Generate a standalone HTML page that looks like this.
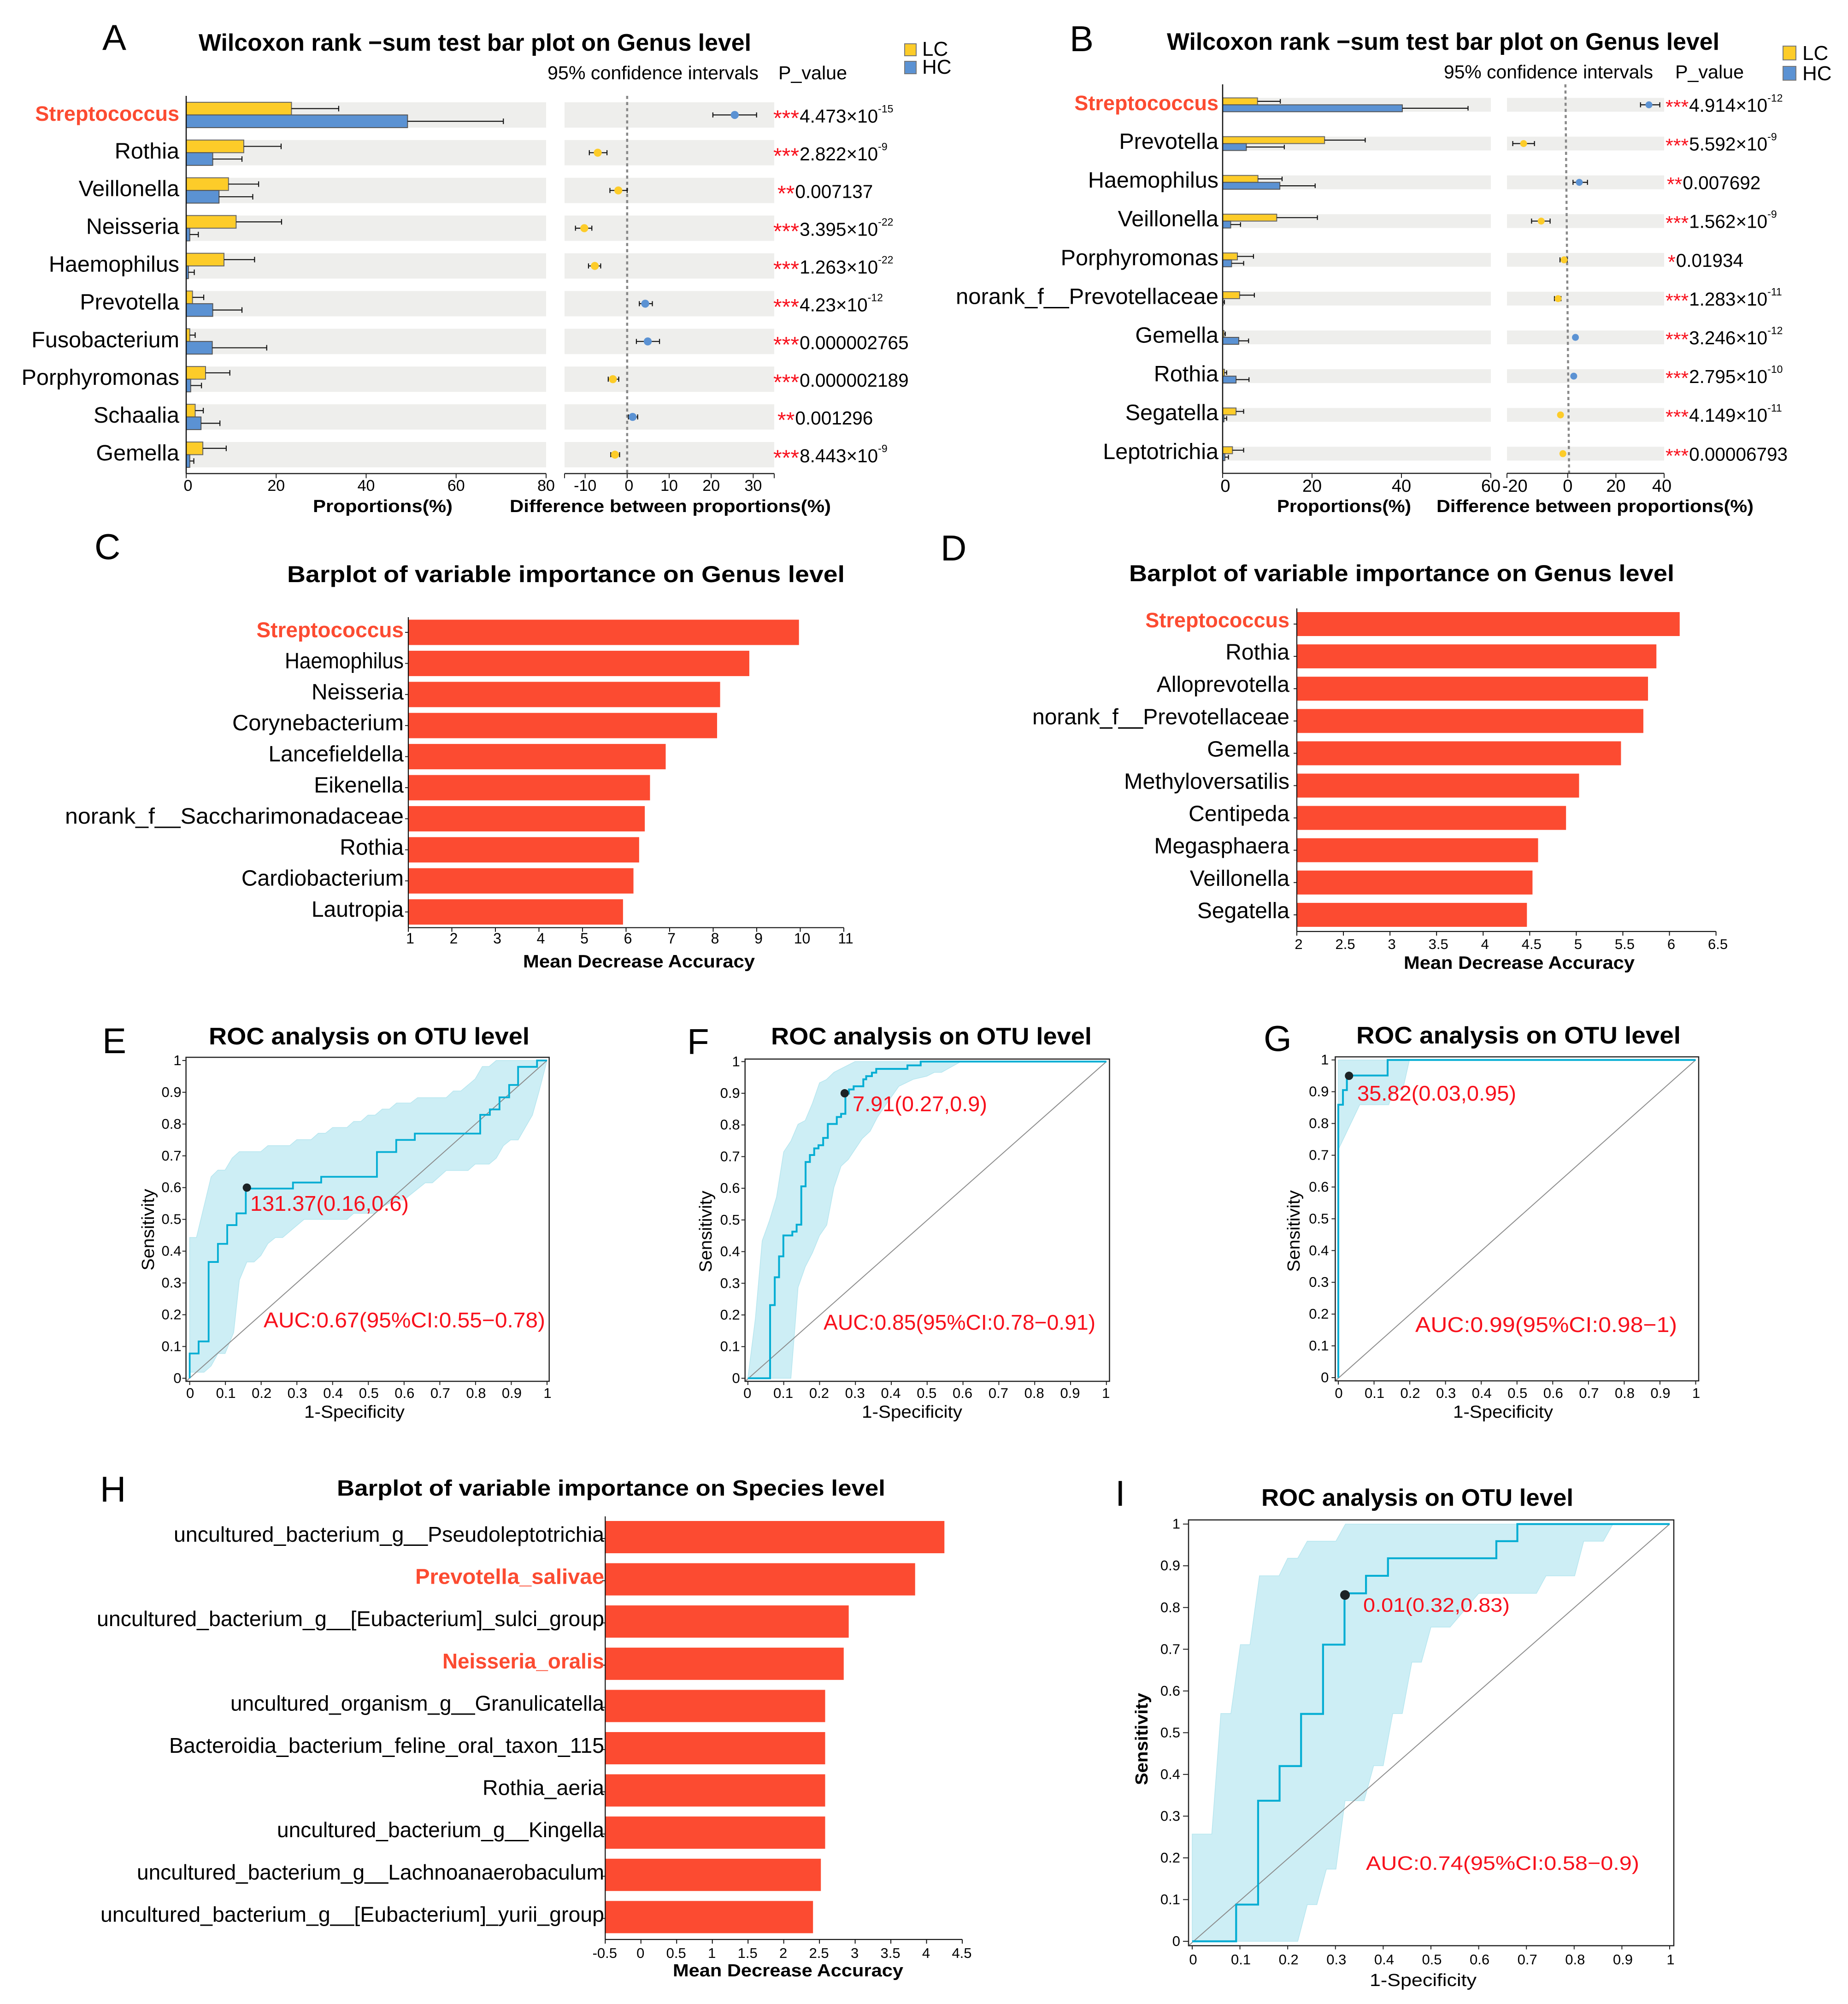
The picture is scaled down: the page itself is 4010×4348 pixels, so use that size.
<!DOCTYPE html>
<html lang="en">
<head>
<meta charset="utf-8">
<title>Microbiome figure panels A–I</title>
<style>
html,body{margin:0;padding:0;background:#fff;}
svg{display:block;}
text{font-family:"Liberation Sans",Arial,sans-serif;fill:#000;}
.b{font-weight:700;}
.r{fill:#f8101c;}
</style>
</head>
<body>
<svg id="figure" xmlns="http://www.w3.org/2000/svg" width="4010" height="4348" viewBox="0 0 4010 4348">
<rect x="0" y="0" width="4010" height="4348" fill="#ffffff"/>
<g id="charts"></g>

<g font-size="78">
<text x="222" y="108">A</text>
<text x="2321" y="111">B</text>
<text x="205" y="1213">C</text>
<text x="2041" y="1216">D</text>
<text x="222" y="2285">E</text>
<text x="1491" y="2287">F</text>
<text x="2742" y="2280">G</text>
<text x="217" y="3258">H</text>
<text x="2420" y="3267">I</text>
</g>

<g>
<text class="b" x="431" y="110" font-size="52" textLength="1199" lengthAdjust="spacingAndGlyphs">Wilcoxon rank −sum test bar plot on Genus level</text>
<text x="1188" y="172" font-size="41" textLength="458" lengthAdjust="spacingAndGlyphs">95% confidence intervals</text>
<text x="1689" y="172" font-size="41" textLength="149" lengthAdjust="spacingAndGlyphs">P_value</text>
<rect x="1963" y="95" width="25" height="26" fill="#fdcc29" stroke="#777" stroke-width="2"/>
<rect x="1963" y="133" width="25" height="27" fill="#5b92d3" stroke="#777" stroke-width="2"/>
<text x="2001" y="121" font-size="44">LC</text>
<text x="2001" y="160" font-size="44">HC</text>
<text class="b" x="679" y="1111" font-size="38" textLength="303" lengthAdjust="spacingAndGlyphs">Proportions(%)</text>
<text class="b" x="1106" y="1111" font-size="38" textLength="697" lengthAdjust="spacingAndGlyphs">Difference between proportions(%)</text>
</g>

<g>
<text class="b" x="2532" y="108" font-size="52" textLength="1199" lengthAdjust="spacingAndGlyphs">Wilcoxon rank −sum test bar plot on Genus level</text>
<text x="3133" y="170" font-size="41" textLength="454" lengthAdjust="spacingAndGlyphs">95% confidence intervals</text>
<text x="3635" y="170" font-size="41" textLength="149" lengthAdjust="spacingAndGlyphs">P_value</text>
<rect x="3869" y="100" width="28" height="30" fill="#fdcc29" stroke="#777" stroke-width="2"/>
<rect x="3869" y="144" width="28" height="30" fill="#5b92d3" stroke="#777" stroke-width="2"/>
<text x="3911" y="130" font-size="44">LC</text>
<text x="3911" y="174" font-size="44">HC</text>
<text class="b" x="2771" y="1111" font-size="38" textLength="291" lengthAdjust="spacingAndGlyphs">Proportions(%)</text>
<text class="b" x="3117" y="1111" font-size="38" textLength="688" lengthAdjust="spacingAndGlyphs">Difference between proportions(%)</text>
</g>

<g>
<text class="b" x="623" y="1263" font-size="50" textLength="1210" lengthAdjust="spacingAndGlyphs">Barplot of variable importance on Genus level</text>
<text class="b" x="1135" y="2099" font-size="39" textLength="503" lengthAdjust="spacingAndGlyphs">Mean Decrease Accuracy</text>
<text class="b" x="2450" y="1261" font-size="50" textLength="1183" lengthAdjust="spacingAndGlyphs">Barplot of variable importance on Genus level</text>
<text class="b" x="3046" y="2102" font-size="39" textLength="501" lengthAdjust="spacingAndGlyphs">Mean Decrease Accuracy</text>
<text class="b" x="731" y="3245" font-size="48" textLength="1190" lengthAdjust="spacingAndGlyphs">Barplot of variable importance on Species level</text>
<text class="b" x="1460" y="4288" font-size="38" textLength="500" lengthAdjust="spacingAndGlyphs">Mean Decrease Accuracy</text>
</g>

<g>
<text class="b" x="453" y="2266" font-size="52" textLength="696" lengthAdjust="spacingAndGlyphs">ROC analysis on OTU level</text>
<text class="r" x="543" y="2627" font-size="46" textLength="344" lengthAdjust="spacingAndGlyphs">131.37(0.16,0.6)</text>
<text class="r" x="572" y="2880" font-size="46" textLength="611" lengthAdjust="spacingAndGlyphs">AUC:0.67(95%CI:0.55−0.78)</text>
<text x="660" y="3076" font-size="38" textLength="218" lengthAdjust="spacingAndGlyphs">1-Specificity</text>
<text x="0" y="0" font-size="38" text-anchor="middle" transform="translate(334 2668) rotate(-90)" textLength="177" lengthAdjust="spacingAndGlyphs">Sensitivity</text>
</g>
<g>
<text class="b" x="1673" y="2266" font-size="52" textLength="696" lengthAdjust="spacingAndGlyphs">ROC analysis on OTU level</text>
<text class="r" x="1850" y="2411" font-size="46" textLength="292" lengthAdjust="spacingAndGlyphs">7.91(0.27,0.9)</text>
<text class="r" x="1787" y="2885" font-size="46" textLength="590" lengthAdjust="spacingAndGlyphs">AUC:0.85(95%CI:0.78−0.91)</text>
<text x="1870" y="3076" font-size="38" textLength="218" lengthAdjust="spacingAndGlyphs">1-Specificity</text>
<text x="0" y="0" font-size="38" text-anchor="middle" transform="translate(1544 2672) rotate(-90)" textLength="177" lengthAdjust="spacingAndGlyphs">Sensitivity</text>
</g>
<g>
<text class="b" x="2943" y="2264" font-size="52" textLength="704" lengthAdjust="spacingAndGlyphs">ROC analysis on OTU level</text>
<text class="r" x="2945" y="2388" font-size="46" textLength="345" lengthAdjust="spacingAndGlyphs">35.82(0.03,0.95)</text>
<text class="r" x="3071" y="2890" font-size="46" textLength="568" lengthAdjust="spacingAndGlyphs">AUC:0.99(95%CI:0.98−1)</text>
<text x="3153" y="3076" font-size="38" textLength="217" lengthAdjust="spacingAndGlyphs">1-Specificity</text>
<text x="0" y="0" font-size="38" text-anchor="middle" transform="translate(2820 2671) rotate(-90)" textLength="177" lengthAdjust="spacingAndGlyphs">Sensitivity</text>
</g>
<g>
<text class="b" x="2737" y="3267" font-size="52" textLength="677" lengthAdjust="spacingAndGlyphs">ROC analysis on OTU level</text>
<text class="r" x="2958" y="3497" font-size="43" textLength="318" lengthAdjust="spacingAndGlyphs">0.01(0.32,0.83)</text>
<text class="r" x="2964" y="4057" font-size="43" textLength="593" lengthAdjust="spacingAndGlyphs">AUC:0.74(95%CI:0.58−0.9)</text>
<text x="2972" y="4309" font-size="38" textLength="232" lengthAdjust="spacingAndGlyphs">1-Specificity</text>
<text class="b" x="0" y="0" font-size="38" text-anchor="middle" transform="translate(2490 3773) rotate(-90)" textLength="200" lengthAdjust="spacingAndGlyphs">Sensitivity</text>
</g>
</svg>

<script>
/* ---------- Panel A data ---------- */
const aCategories = ['Streptococcus','Rothia','Veillonella','Neisseria','Haemophilus','Prevotella','Fusobacterium','Porphyromonas','Schaalia','Gemella'];
const aLcMean = [23.4,12.8,9.4,11.1,8.4,1.4,0.8,4.3,2.0,3.7];
const aLcUpper = [33.9,21.1,16.1,21.2,15.2,3.9,2.0,9.7,3.8,8.9];
const aHcMean = [49.2,5.9,7.3,0.8,0.5,5.9,5.8,1.0,3.3,0.8];
const aHcUpper = [70.5,12.4,14.8,2.7,1.8,12.4,17.9,3.4,7.5,1.7];
const aDiff = [25.6,-7.0,-2.1,-10.2,-7.7,4.3,4.9,-3.4,1.3,-2.9];
const aDiffLow = [20.4,-9.0,-4.1,-12.3,-9.2,2.9,2.2,-4.5,0.3,-3.9];
const aDiffHigh = [30.8,-4.8,0,-8.4,-6.3,6.0,7.7,-2.0,2.5,-1.8];
const aStars = ['***','***','**','***','***','***','***','***','**','***'];
const aPValues = ['4.473×10','2.822×10','0.007137','3.395×10','1.263×10','4.23×10','0.000002765','0.000002189','0.001296','8.443×10'];
const aPExponents = ['-15','-9','','-22','-22','-12','','','','-9'];
const aPropTicks = [0,20,40,60,80];
const aDiffTicks = [-10,0,10,20,30];

/* ---------- Panel B data ---------- */
const bCategories = ['Streptococcus','Prevotella','Haemophilus','Veillonella','Porphyromonas','norank_f__Prevotellaceae','Gemella','Rothia','Segatella','Leptotrichia'];
const bLcMean = [7.8,22.8,7.9,12.1,3.3,3.8,0.3,0.4,3.0,2.2];
const bLcUpper = [12.9,31.9,13.3,21.2,6.9,7.1,0.6,0.9,4.7,4.7];
const bHcMean = [40.2,5.3,12.8,1.8,2.0,0.1,3.6,3.0,0.3,0.5];
const bHcUpper = [54.9,13.8,20.7,4.0,4.7,0.4,5.8,5.9,0.9,1.3];
const bDiff = [33.7,-18.3,4.8,-11,-1.5,-4,3.2,2.5,-3,-2];
const bDiffLow = [30.2,-22.8,2.2,-15,-3.2,-5.5,2.5,2,-3.5,-2.8];
const bDiffHigh = [38.2,-13.8,8.2,-7.3,-0.2,-2.8,4,3.2,-2.2,-1.2];
const bStars = ['***','***','**','***','*','***','***','***','***','***'];
const bPValues = ['4.914×10','5.592×10','0.007692','1.562×10','0.01934','1.283×10','3.246×10','2.795×10','4.149×10','0.00006793'];
const bPExponents = ['-12','-9','','-9','','-11','-12','-10','-11',''];
const bPropTicks = [0,20,40,60];
const bDiffTicks = [-20,0,20,40];

/* ---------- Importance bar panels ---------- */
const cCategories = ['Streptococcus','Haemophilus','Neisseria','Corynebacterium','Lancefieldella','Eikenella','norank_f__Saccharimonadaceae','Rothia','Cardiobacterium','Lautropia'];
const cValues = [9.97,8.83,8.16,8.09,6.91,6.55,6.43,6.30,6.17,5.93];
const cTicks = [1,2,3,4,5,6,7,8,9,10,11];
const dCategories = ['Streptococcus','Rothia','Alloprevotella','norank_f__Prevotellaceae','Gemella','Methyloversatilis','Centipeda','Megasphaera','Veillonella','Segatella'];
const dValues = [6.11,5.86,5.77,5.72,5.48,5.03,4.89,4.59,4.53,4.47];
const dTicks = [2,2.5,3,3.5,4,4.5,5,5.5,6,6.5];
const hCategories = ['uncultured_bacterium_g__Pseudoleptotrichia','Prevotella_salivae','uncultured_bacterium_g__[Eubacterium]_sulci_group','Neisseria_oralis','uncultured_organism_g__Granulicatella','Bacteroidia_bacterium_feline_oral_taxon_115','Rothia_aeria','uncultured_bacterium_g__Kingella','uncultured_bacterium_g__Lachnoanaerobaculum','uncultured_bacterium_g__[Eubacterium]_yurii_group'];
const hValues = [4.25,3.84,2.91,2.84,2.58,2.58,2.58,2.58,2.52,2.41];
const hTicks = [-0.5,0,0.5,1,1.5,2,2.5,3,3.5,4,4.5];

/* ---------- ROC panels ---------- */
const rocTicks = [0,0.1,0.2,0.3,0.4,0.5,0.6,0.7,0.8,0.9,1];

const eStepFpr = [0,0.025,0.053,0.079,0.105,0.131,0.157,0.289,0.368,0.524,0.578,0.63,0.813,0.84,0.867,0.894,0.919,0.972,1];
const eStepTpr = [0.078,0.116,0.366,0.423,0.482,0.519,0.597,0.616,0.634,0.712,0.75,0.77,0.829,0.846,0.884,0.923,0.98,1,1];
const eUpperFpr = [0,0.019,0.06,0.079,0.099,0.119,0.139,0.199,0.219,0.28,0.3,0.34,0.36,0.38,0.4,0.44,0.459,0.479,0.499,0.519,0.539,0.559,0.579,0.618,0.638,0.718,0.738,0.759,0.799,0.819,0.838,0.858,1];
const eUpperTpr = [0.443,0.443,0.634,0.655,0.655,0.693,0.713,0.713,0.732,0.732,0.751,0.751,0.771,0.771,0.789,0.789,0.808,0.808,0.828,0.828,0.847,0.847,0.866,0.866,0.883,0.883,0.904,0.904,0.942,0.981,0.981,1,1];
const eLowerFpr = [0.978,0.959,0.919,0.898,0.878,0.858,0.838,0.799,0.779,0.718,0.679,0.659,0.599,0.579,0.539,0.519,0.459,0.44,0.32,0.26,0.24,0.219,0.199,0.18,0.16,0.139,0.123,0.099,0.079,0.06,0.04,0];
const eLowerTpr = [0.904,0.828,0.75,0.75,0.732,0.693,0.674,0.674,0.654,0.654,0.615,0.615,0.561,0.561,0.541,0.519,0.519,0.5,0.5,0.443,0.443,0.424,0.386,0.366,0.366,0.309,0.144,0.078,0.078,0.039,0.019,0.019];
const eCutoffFpr = [0.16];
const eCutoffTpr = [0.6];

const fStepFpr = [0,0.062,0.075,0.087,0.099,0.124,0.136,0.149,0.161,0.173,0.185,0.197,0.21,0.223,0.248,0.26,0.272,0.282,0.295,0.322,0.33,0.346,0.358,0.37,0.445,0.482,1];
const fStepTpr = [0,0.231,0.319,0.385,0.451,0.463,0.485,0.606,0.683,0.705,0.726,0.736,0.759,0.803,0.825,0.835,0.899,0.912,0.922,0.944,0.954,0.965,0.977,0.977,0.988,1,1];
const fUpperFpr = [0,0.021,0.04,0.06,0.08,0.1,0.12,0.14,0.16,0.18,0.2,0.219,0.24,0.299,1];
const fUpperTpr = [0,0.189,0.434,0.497,0.572,0.715,0.749,0.802,0.814,0.868,0.933,0.943,0.966,1,1];
const fLowerFpr = [0.594,0.54,0.52,0.499,0.461,0.421,0.38,0.361,0.341,0.319,0.28,0.26,0.24,0.22,0.2,0.18,0.16,0.14,0.12,0];
const fLowerTpr = [1,0.966,0.966,0.954,0.944,0.922,0.856,0.824,0.78,0.757,0.691,0.67,0.603,0.484,0.451,0.396,0.352,0.287,0,0];
const fCutoffFpr = [0.27];
const fCutoffTpr = [0.9];

const gStepFpr = [0,0.013,0.024,0.138,1];
const gStepTpr = [0.859,0.905,0.951,1,1];
const gUpperFpr = [0,0.199];
const gUpperTpr = [1,1];
const gLowerFpr = [0.18,0.155,0.141,0.06,0];
const gLowerTpr = [0.905,0.905,0.859,0.859,0.718];
const gCutoffFpr = [0.03];
const gCutoffTpr = [0.95];

const iStepFpr = [0.092,0.138,0.183,0.228,0.274,0.319,0.364,0.41,0.637,0.681,1];
const iStepTpr = [0.088,0.337,0.42,0.545,0.711,0.834,0.876,0.918,0.959,1,1];
const iUpperFpr = [0,0.041,0.06,0.081,0.101,0.121,0.141,0.182,0.2,0.221,0.241,0.301,0.321,0.881];
const iUpperTpr = [0.257,0.257,0.546,0.546,0.711,0.711,0.876,0.876,0.918,0.918,0.959,0.959,1,1];
const iLowerFpr = [0.861,0.82,0.801,0.741,0.721,0.6,0.54,0.5,0.48,0.46,0.44,0.42,0.4,0.38,0.36,0.32,0.301,0.281,0.261,0.241,0.221,0];
const iLowerTpr = [0.959,0.959,0.876,0.876,0.834,0.834,0.753,0.753,0.669,0.669,0.546,0.546,0.421,0.421,0.337,0.337,0.173,0.173,0.088,0.088,0,0];
const iCutoffFpr = [0.32];
const iCutoffTpr = [0.83];

/* ---------- helpers ---------- */
const NS = 'http://www.w3.org/2000/svg';
const root = document.getElementById('charts');
const YELLOW = '#fdcc29', BLUE = '#5b92d3', BAND = '#eeeeec', BAR = '#fc4b31', HILITE = '#fc4b31';

function make(parent, tag, attrs, name, text) {
  const el = document.createElementNS(NS, tag);
  for (const k in attrs) el.setAttribute(k, attrs[k]);
  
  
  if (text !== undefined) el.textContent = text;
  parent.appendChild(el);
  return el;
}
function linear(d0, d1, r0, r1) {
  return function (v) { return r0 + (v - d0) * (r1 - r0) / (d1 - d0); };
}
function slug(s) {
  return String(s).toLowerCase().replace(/[^a-z0-9]+/g, '-').replace(/^-|-$/g, '');
}
function line(parent, x1, y1, x2, y2, stroke, width, name, extra) {
  const attrs = {x1: x1, y1: y1, x2: x2, y2: y2, stroke: stroke, 'stroke-width': width};
  if (extra) for (const k in extra) attrs[k] = extra[k];
  return make(parent, 'line', attrs, name);
}
function label(parent, x, y, str, size, name, opts) {
  const o = opts || {};
  const attrs = {x: x, y: y, 'font-size': size, 'text-anchor': o.anchor || 'start'};
  if (o.bold) attrs['font-weight'] = '700';
  if (o.fill) attrs.style = 'fill:' + o.fill;
  if (o.fit) { attrs.textLength = o.fit; attrs.lengthAdjust = 'spacingAndGlyphs'; }
  return make(parent, 'text', attrs, name, str);
}

/* ---------- Wilcoxon panels ---------- */
function drawWilcoxon(c) {
  const g = make(root, 'g', {}, c.id + '-chart');
  const px = linear(c.propDomain[0], c.propDomain[1], c.propRange[0], c.propRange[1]);
  const dx = linear(c.diffDomain[0], c.diffDomain[1], c.diffRange[0], c.diffRange[1]);
  const rowY = function (i) { return c.firstRow + i * c.rowStep; };
  const half = c.bandH / 2;

  c.categories.forEach(function (cat, i) {
    const y = rowY(i), s = slug(cat);
    make(g, 'rect', {x: c.propRange[0], y: y - half, width: c.propRange[1] - c.propRange[0], height: c.bandH, fill: BAND}, c.id + '-band-' + s);
    make(g, 'rect', {x: c.diffRange[0], y: y - half, width: c.diffRange[1] - c.diffRange[0], height: c.bandH, fill: BAND}, c.id + '-diff-band-' + s);
  });

  line(g, dx(0) + c.zeroShiftTop, c.axisTop, dx(0) + c.zeroShiftBottom, c.axisBottom, '#888', 4.5, c.id + '-zero-line', {'stroke-dasharray': '6.7 6.6'});

  c.categories.forEach(function (cat, i) {
    const y = rowY(i), s = slug(cat);
    const ly = y - half / 2, hy = y + half / 2;
    make(g, 'rect', {x: px(0), y: y - half, width: px(c.lc[i]) - px(0), height: half, fill: YELLOW, stroke: '#666', 'stroke-width': 2}, c.id + '-bar-lc-' + s);
    line(g, px(c.lc[i]), ly, px(c.lcUp[i]), ly, '#111', 2.2, c.id + '-err-lc-' + s);
    line(g, px(c.lcUp[i]), ly - c.cap, px(c.lcUp[i]), ly + c.cap, '#111', 2.2, c.id + '-cap-lc-' + s);
    make(g, 'rect', {x: px(0), y: y, width: px(c.hc[i]) - px(0), height: half, fill: BLUE, stroke: '#555', 'stroke-width': 2}, c.id + '-bar-hc-' + s);
    line(g, px(c.hc[i]), hy, px(c.hcUp[i]), hy, '#111', 2.2, c.id + '-err-hc-' + s);
    line(g, px(c.hcUp[i]), hy - c.cap, px(c.hcUp[i]), hy + c.cap, '#111', 2.2, c.id + '-cap-hc-' + s);

    line(g, dx(c.diffLow[i]), y, dx(c.diffHigh[i]), y, '#111', 2.2, c.id + '-ci-' + s);
    line(g, dx(c.diffLow[i]), y - 5.5, dx(c.diffLow[i]), y + 5.5, '#111', 2.2, c.id + '-ci-low-' + s);
    line(g, dx(c.diffHigh[i]), y - 5.5, dx(c.diffHigh[i]), y + 5.5, '#111', 2.2, c.id + '-ci-high-' + s);
    make(g, 'ellipse', {cx: dx(c.diff[i]), cy: y, rx: c.dotR, ry: c.dotR, fill: c.diff[i] > 0 ? BLUE : YELLOW}, c.id + '-diff-point-' + s);

    label(g, c.labelRight, y + c.labelDy, cat, i === 0 ? c.boldSize : c.labelSize, c.id + '-category-' + s,
      {anchor: 'end', bold: i === 0, fill: i === 0 ? HILITE : null, fit: c.fit[i]});

    const n = c.stars[i].length;
    const starX = c.starX[n];
    label(g, starX, y + c.starDy, c.stars[i], c.starSize, c.id + '-significance-' + s, {fill: '#f8101c'});
    const t = label(g, starX + n * c.starStep + 1, y + c.pDy, c.pValues[i], 40.5, c.id + '-p-value-' + s);
    if (c.pExp[i]) {
      make(t, 'tspan', {'font-size': 23, dy: -22}, c.id + '-p-exponent-' + s, c.pExp[i]);
    }
  });

  line(g, px(0), c.axisTop, px(0), c.axisBottom, '#111', 2.5, c.id + '-category-axis');
  line(g, c.propRange[0], c.axisBottom, c.propRange[1], c.axisBottom, '#222', 2.5, c.id + '-proportions-axis');
  line(g, c.diffRange[0], c.axisBottom, c.diffRange[1], c.axisBottom, '#222', 2.5, c.id + '-difference-axis');
  c.propTicks.forEach(function (t) {
    line(g, px(t), c.axisBottom, px(t), c.axisBottom + 10, '#222', 2, c.id + '-proportions-tick-' + slug(t));
    label(g, px(t) + (t === 0 ? c.zeroLabelShift : 0), c.tickY, String(t), c.tickSize, c.id + '-proportions-tick-label-' + slug(t), {anchor: 'middle'});
  });
  line(g, c.diffRange[0], c.axisBottom, c.diffRange[0], c.axisBottom + 10, '#222', 2, c.id + '-difference-axis-start');
  line(g, c.diffRange[1], c.axisBottom, c.diffRange[1], c.axisBottom + 10, '#222', 2, c.id + '-difference-axis-end');
  c.diffTicks.forEach(function (t) {
    if (!(t in c.diffTickSkip)) line(g, dx(t), c.axisBottom, dx(t), c.axisBottom + 10, '#222', 2, c.id + '-difference-tick-' + slug(t));
    const lx = t in c.diffLabelShift ? dx(t) + c.diffLabelShift[t] : dx(t);
    label(g, lx, c.tickY, String(t), c.tickSize, c.id + '-difference-tick-label-' + slug(t), {anchor: 'middle'});
  });
}

/* ---------- Importance panels ---------- */
function drawImportance(c) {
  const g = make(root, 'g', {}, c.id + '-chart');
  const x = linear(c.domain[0], c.domain[1], c.range[0], c.range[1]);
  c.categories.forEach(function (cat, i) {
    const y = c.firstCenter + i * c.rowStep, s = slug(cat);
    make(g, 'rect', {x: c.range[0], y: y - c.barH / 2, width: x(c.values[i]) - c.range[0], height: c.barH, fill: BAR}, c.id + '-bar-' + s);
    line(g, c.range[0] - 7, y + c.tickDy, c.range[0], y + c.tickDy, '#222', 2, c.id + '-category-tick-' + s);
    const hot = c.highlight.indexOf(i) >= 0;
    label(g, c.labelRight, y + c.labelDy, cat, hot ? c.boldSize : c.labelSize, c.id + '-category-' + s,
      {anchor: 'end', bold: hot, fill: hot ? HILITE : null, fit: c.fit[i]});
  });
  line(g, c.range[0], c.axisTop, c.range[0], c.axisBottom, '#111', 2.2, c.id + '-y-axis');
  line(g, c.range[0], c.axisBottom, c.range[1], c.axisBottom, '#111', 2.2, c.id + '-x-axis');
  c.ticks.forEach(function (t) {
    line(g, x(t), c.axisBottom, x(t), c.axisBottom + 9, '#111', 2, c.id + '-x-tick-' + slug(t));
    label(g, x(t) + c.tickShift, c.tickY, String(t), c.tickSize, c.id + '-x-tick-label-' + slug(t), {anchor: 'middle'});
  });
}

/* ---------- ROC panels ---------- */
function drawRoc(c) {
  const g = make(root, 'g', {}, c.id + '-chart');
  const x = linear(0, 1, c.x0, c.x1);
  const y = linear(0, 1, c.y0, c.y1);

  const bandX = c.upperFpr.concat(c.lowerFpr);
  const bandY = c.upperTpr.concat(c.lowerTpr);
  const pts = bandX.map(function (f, i) { return x(f) + ',' + y(bandY[i]); }).join(' ');
  make(g, 'polygon', {points: pts, fill: '#cdeef5', stroke: '#b6e6ef', 'stroke-width': 1.5}, c.id + '-confidence-band');

  line(g, c.left, c.bottom, x(1), y(1), '#8c8c8c', 2, c.id + '-reference-diagonal');

  let d = 'M' + x(0) + ' ' + y(0);
  c.stepFpr.forEach(function (f, i) {
    d += ' H' + x(f) + ' V' + y(c.stepTpr[i]);
  });
  make(g, 'path', {d: d, fill: 'none', stroke: '#04add3', 'stroke-width': c.lineW}, c.id + '-roc-curve');

  make(g, 'rect', {x: c.left, y: c.top, width: c.right - c.left, height: c.bottom - c.top, fill: 'none', stroke: '#222', 'stroke-width': 2.5}, c.id + '-plot-frame');

  rocTicks.forEach(function (t) {
    line(g, x(t), c.bottom, x(t), c.bottom + 8, '#222', 2, c.id + '-x-tick-' + slug(t));
    line(g, c.left - c.yTickLen, y(t), c.left, y(t), '#222', 2, c.id + '-y-tick-' + slug(t));
    label(g, x(t) + c.xLabelShift, c.xLabelY, String(t), c.tickSize, c.id + '-x-tick-label-' + slug(t), {anchor: 'middle'});
    label(g, c.left - c.yLabelGap, y(t) + 10, String(t), c.tickSize, c.id + '-y-tick-label-' + slug(t), {anchor: 'end'});
  });

  make(g, 'ellipse', {cx: x(c.cutFpr[0]), cy: y(c.cutTpr[0]), rx: c.dotR, ry: c.dotR, fill: '#1c2326'}, c.id + '-cutoff-point');
}

/* ---------- draw ---------- */
drawWilcoxon({
  id: 'panel-a', categories: aCategories, lc: aLcMean, lcUp: aLcUpper, hc: aHcMean, hcUp: aHcUpper,
  diff: aDiff, diffLow: aDiffLow, diffHigh: aDiffHigh, stars: aStars, pValues: aPValues, pExp: aPExponents,
  propDomain: [0, 80], propRange: [404, 1185], diffDomain: [-14.9, 35], diffRange: [1225, 1680],
  propTicks: aPropTicks, diffTicks: aDiffTicks, diffTickSkip: {}, diffLabelShift: {0: 4},
  axisTop: 208, axisBottom: 1027.5, firstRow: 249.4, rowStep: 81.9, bandH: 55, cap: 6, dotR: 8.7,
  zeroShiftTop: 0, zeroShiftBottom: 0, labelRight: 389, labelSize: 48.5, boldSize: 45, labelDy: 12.5,
  tickY: 1065, tickSize: 34, zeroLabelShift: 4, fit: {},
  starX: {3: 1678, 2: 1687}, starStep: 18.7, starSize: 48, starDy: 23, pDy: 16.5
});
drawWilcoxon({
  id: 'panel-b', categories: bCategories, lc: bLcMean, lcUp: bLcUpper, hc: bHcMean, hcUp: bHcUpper,
  diff: bDiff, diffLow: bDiffLow, diffHigh: bDiffHigh, stars: bStars, pValues: bPValues, pExp: bPExponents,
  propDomain: [0, 60], propRange: [2653, 3235], diffDomain: [-25.2, 40], diffRange: [3270, 3611],
  propTicks: bPropTicks, diffTicks: bDiffTicks, diffTickSkip: {'-20': 1}, diffLabelShift: {'-20': -10, 40: -5},
  axisTop: 183, axisBottom: 1027, firstRow: 227.4, rowStep: 84.1, bandH: 30, cap: 5, dotR: 7.5,
  zeroShiftTop: -5, zeroShiftBottom: 3, labelRight: 2644, labelSize: 48.5, boldSize: 45, labelDy: 11.5,
  tickY: 1067, tickSize: 38, zeroLabelShift: 6, fit: {5: 570},
  starX: {3: 3614, 2: 3617, 1: 3619}, starStep: 16.7, starSize: 43, starDy: 19, pDy: 15
});
drawImportance({
  id: 'panel-c', categories: cCategories, values: cValues, highlight: [0], ticks: cTicks,
  domain: [1, 11], range: [886, 1831], axisTop: 1339, axisBottom: 2012.7,
  firstCenter: 1372, rowStep: 67.4, barH: 55, tickDy: 0, labelRight: 876, labelDy: 10.5,
  labelSize: 48, boldSize: 46, tickY: 2047, tickSize: 32, tickShift: 4,
  fit: {1: 258, 3: 372, 6: 735}
});
drawImportance({
  id: 'panel-d', categories: dCategories, values: dValues, highlight: [0], ticks: dTicks,
  domain: [2, 6.5], range: [2814, 3723.6], axisTop: 1320, axisBottom: 2021,
  firstCenter: 1354, rowStep: 70.1, barH: 52, tickDy: 0, labelRight: 2798, labelDy: 7,
  labelSize: 48, boldSize: 45, tickY: 2059, tickSize: 31, tickShift: 4,
  fit: {3: 558, 5: 359}
});
drawImportance({
  id: 'panel-h', categories: hCategories, values: hValues, highlight: [1, 3], ticks: hTicks,
  domain: [-0.5, 4.5], range: [1313.3, 2088], axisTop: 3290, axisBottom: 4208,
  firstCenter: 3335, rowStep: 91.6, barH: 70, tickDy: 3, labelRight: 1311, labelDy: 10,
  labelSize: 46, boldSize: 46, tickY: 4248, tickSize: 31, tickShift: -1,
  fit: {0: 934, 1: 410, 2: 1101, 3: 351, 4: 811, 5: 944, 6: 264, 7: 710, 8: 1014, 9: 1093}
});
drawRoc({
  id: 'panel-e', stepFpr: eStepFpr, stepTpr: eStepTpr, upperFpr: eUpperFpr, upperTpr: eUpperTpr, lowerFpr: eLowerFpr, lowerTpr: eLowerTpr,
  cutFpr: eCutoffFpr, cutTpr: eCutoffTpr,
  left: 403.6, right: 1191.7, top: 2294, bottom: 2997, x0: 411.6, x1: 1187, y0: 2990.4, y1: 2300.9,
  tickSize: 31, xLabelY: 3033, xLabelShift: 1, yLabelGap: 10, yTickLen: 8, lineW: 3.8, dotR: 9
});
drawRoc({
  id: 'panel-f', stepFpr: fStepFpr, stepTpr: fStepTpr, upperFpr: fUpperFpr, upperTpr: fUpperTpr, lowerFpr: fLowerFpr, lowerTpr: fLowerTpr,
  cutFpr: fCutoffFpr, cutTpr: fCutoffTpr,
  left: 1616.7, right: 2407.5, top: 2297.8, bottom: 2997, x0: 1622.8, x1: 2400.8, y0: 2990.4, y1: 2303.3,
  tickSize: 31, xLabelY: 3033, xLabelShift: -1, yLabelGap: 11, yTickLen: 8, lineW: 4, dotR: 9
});
drawRoc({
  id: 'panel-g', stepFpr: gStepFpr, stepTpr: gStepTpr, upperFpr: gUpperFpr, upperTpr: gUpperTpr, lowerFpr: gLowerFpr, lowerTpr: gLowerTpr,
  cutFpr: gCutoffFpr, cutTpr: gCutoffTpr,
  left: 2897.4, right: 3686, top: 2293, bottom: 2996, x0: 2904, x1: 3679.5, y0: 2989, y1: 2299.7,
  tickSize: 31, xLabelY: 3033, xLabelShift: 1, yLabelGap: 14, yTickLen: 8, lineW: 4, dotR: 9
});
drawRoc({
  id: 'panel-i', stepFpr: iStepFpr, stepTpr: iStepTpr, upperFpr: iUpperFpr, upperTpr: iUpperTpr, lowerFpr: iLowerFpr, lowerTpr: iLowerTpr,
  cutFpr: iCutoffFpr, cutTpr: iCutoffTpr,
  left: 2579, right: 3632, top: 3297.7, bottom: 4221.5, x0: 2587, x1: 3623, y0: 4212, y1: 3306.7,
  tickSize: 31, xLabelY: 4262, xLabelShift: 2, yLabelGap: 18, yTickLen: 12, lineW: 4.2, dotR: 10.5
});
</script>
</body>
</html>
